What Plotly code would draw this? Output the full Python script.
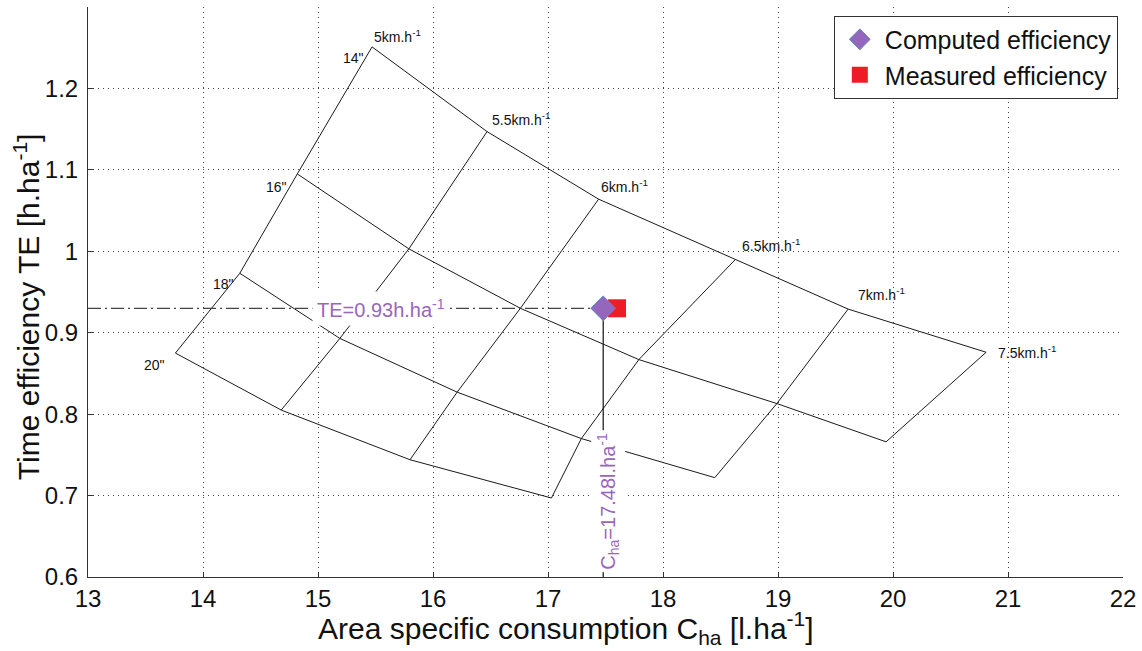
import plotly.graph_objects as go

# ---------------- data ----------------
speeds = [5, 5.5, 6, 6.5, 7, 7.5]          # km/h
depths = ['14"', '16"', '18"', '20"']      # working depth

# Area specific consumption C_ha [l/ha] per depth line (ordered by speed)
C_14 = [15.47, 16.47, 17.44, 18.63, 19.61, 20.81]
C_16 = [14.82, 15.79, 16.76, 17.79, 18.99, 19.94]
C_18 = [14.32, 15.19, 16.21, 17.29, 18.45]
C_20 = [13.76, 14.68, 15.80, 17.03]

# Time efficiency TE [h/ha] per depth line (ordered by speed)
TE_14 = [1.251, 1.147, 1.064, 0.990, 0.929, 0.876]
TE_16 = [1.095, 1.003, 0.930, 0.867, 0.813, 0.766]
TE_18 = [0.973, 0.893, 0.827, 0.770, 0.722]
TE_20 = [0.875, 0.805, 0.744, 0.697]

computed_C = 17.48
computed_TE = 0.93
measured_C = 17.60
measured_TE = 0.93

x_ticks = [13, 14, 15, 16, 17, 18, 19, 20, 21, 22]
y_ticks = [0.6, 0.7, 0.8, 0.9, 1.0, 1.1, 1.2]
y_ticktext = ['0.6', '0.7', '0.8', '0.9', '1', '1.1', '1.2']

x_title = 'Area specific consumption C<sub>ha</sub> [l.ha<sup>-1</sup>]'
y_title = 'Time efficiency TE [h.ha<sup>-1</sup>]'

# ---------------- figure ----------------
FONT = 'Liberation Sans, Arial, sans-serif'
LINE = '#1a1a1a'
PURPLE = '#9966bb'

C_rows = [C_14, C_16, C_18, C_20]
TE_rows = [TE_14, TE_16, TE_18, TE_20]

fig = go.Figure()

# constant-depth lines
for cs, ts in zip(C_rows, TE_rows):
    fig.add_trace(go.Scatter(x=cs, y=ts, mode='lines', showlegend=False,
                             hoverinfo='skip', line=dict(color=LINE, width=1)))

# constant-speed lines
for j in range(len(speeds)):
    xs = [row[j] for row in C_rows if j < len(row)]
    ys = [row[j] for row in TE_rows if j < len(row)]
    fig.add_trace(go.Scatter(x=xs, y=ys, mode='lines', showlegend=False,
                             hoverinfo='skip', line=dict(color=LINE, width=1)))

# reference lines to the computed point
fig.add_trace(go.Scatter(x=[x_ticks[0], computed_C], y=[computed_TE, computed_TE],
                         mode='lines', showlegend=False, hoverinfo='skip',
                         line=dict(color='#444444', width=1.2, dash='13px,4px,2px,4px')))
fig.add_trace(go.Scatter(x=[computed_C, computed_C], y=[y_ticks[0], computed_TE],
                         mode='lines', showlegend=False, hoverinfo='skip',
                         line=dict(color='#111111', width=1.2)))

# markers
fig.add_trace(go.Scatter(x=[measured_C], y=[measured_TE], mode='markers',
                         name='Measured efficiency',
                         marker=dict(symbol='square', size=18, color='#ee1c24')))
fig.add_trace(go.Scatter(x=[computed_C], y=[computed_TE], mode='markers',
                         name='Computed efficiency',
                         marker=dict(symbol='diamond', size=19, color='#9467bd',
                                     line=dict(color='#5b86c5', width=1))))

annotations = []
# speed labels along the 14" line
speed_shift = [(0, 0, 'bottom'), (3, 2, 'bottom'), (0, 2, 'bottom'),
               (5, 3, 'bottom'), (8, 4, 'bottom'), (10, 0, 'middle')]
for j, s in enumerate(speeds):
    dx, dy, ya = speed_shift[j]
    annotations.append(dict(x=C_14[j], y=TE_14[j], xref='x', yref='y',
                            text=f'{s:g}km.h<sup>-1</sup>', showarrow=False,
                            xanchor='left', yanchor=ya, xshift=dx, yshift=dy,
                            font=dict(family=FONT, size=14, color='#111111')))
# depth labels along the 5 km/h line
depth_shift = [(-6, -1), (-8, -3), (-4, -1), (-8, -2)]
for i, d in enumerate(depths):
    dx, dy = depth_shift[i]
    annotations.append(dict(x=C_rows[i][0], y=TE_rows[i][0], xref='x', yref='y',
                            text=d, showarrow=False, xanchor='right', yanchor='top',
                            xshift=dx, yshift=dy,
                            font=dict(family=FONT, size=14, color='#111111')))

# value labels
annotations.append(dict(x=15.55, y=computed_TE, xref='x', yref='y',
                        text=f'TE={computed_TE:.2f}h.ha<sup>-1</sup>', showarrow=False,
                        xanchor='center', yanchor='middle', bgcolor='white', borderpad=4,
                        font=dict(family=FONT, size=20, color=PURPLE)))
annotations.append(dict(x=computed_C, y=y_ticks[0], xref='x', yref='y',
                        text=f'C<sub>ha</sub>={computed_C:.2f}l.ha<sup>-1</sup>',
                        showarrow=False, textangle=-90, xanchor='center', yanchor='bottom',
                        xshift=5, yshift=4, bgcolor='white', borderpad=2,
                        font=dict(family=FONT, size=20, color=PURPLE)))

# axis titles
annotations.append(dict(x=0.462, y=-0.09, xref='paper', yref='paper', text=x_title,
                        showarrow=False, xanchor='center', yanchor='middle',
                        font=dict(family=FONT, size=30, color='#111111')))
annotations.append(dict(x=-0.059, y=0.475, xref='paper', yref='paper', text=y_title,
                        showarrow=False, xanchor='center', yanchor='middle', textangle=-90,
                        font=dict(family=FONT, size=30, color='#111111')))

axis_common = dict(showline=True, linecolor='#333333', linewidth=1, mirror=False,
                   ticks='inside', ticklen=5, tickcolor='#333333', automargin=False,
                   showgrid=True, gridcolor='#444444', gridwidth=1, griddash='1px,4px',
                   zeroline=False, tickfont=dict(family=FONT, size=24, color='#111111'))

fig.update_layout(
    width=1142, height=651,
    margin=dict(l=88, r=19, t=7, b=74),
    paper_bgcolor='white', plot_bgcolor='white',
    font=dict(family=FONT, color='#111111'),
    xaxis=dict(range=[x_ticks[0], x_ticks[-1]], tickvals=x_ticks, **axis_common),
    yaxis=dict(range=[y_ticks[0], 1.3], tickvals=y_ticks, ticktext=y_ticktext,
               ticklabelstandoff=4, **axis_common),
    legend=dict(x=0.995, y=0.985, xanchor='right', yanchor='top',
                bgcolor='white', bordercolor='#333333', borderwidth=1,
                font=dict(family=FONT, size=25), traceorder='reversed',
                itemwidth=40, tracegroupgap=0),
    annotations=annotations,
    showlegend=True,
)

fig.write_html('out.html', config={'displayModeBar': False},
               post_script="document.body.style.margin='0';document.body.style.padding='0';")
